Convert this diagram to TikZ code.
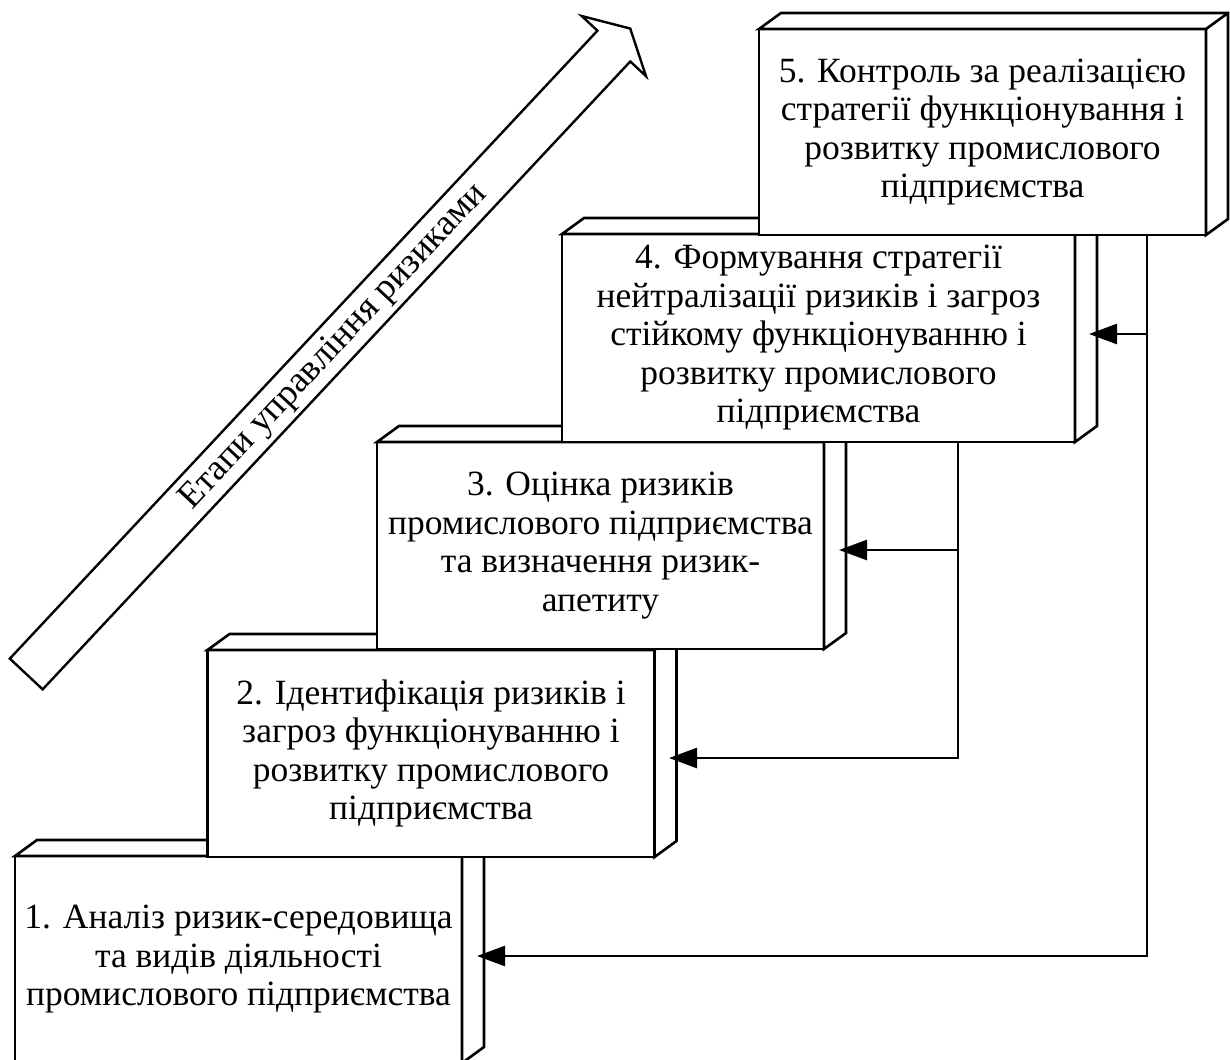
\documentclass[tikz,border=0pt]{standalone}
\usepackage{fontspec}
\setmainfont{Liberation Serif}
\usetikzlibrary{arrows.meta,calc}

% side and top faces of a stage block (depth 22 right, 16 up)
\newcommand\stagefaces[1]{%
  \draw[face] (#1.north west) -- ++(22,-16) -- ($(#1.north east)+(22,-16)$)
    -- ($(#1.south east)+(22,-16)$) -- (#1.south east) -- (#1.north east) -- cycle;
  \draw[face] (#1.north east) -- ++(22,-16);
}

\begin{document}
\begin{tikzpicture}[x=1pt,y=-1pt,
  stage/.style={draw, fill=white, line width=2.6pt, outer sep=0pt, inner sep=0pt,
    minimum width=447pt, minimum height=207pt, align=center,
    font=\fontsize{35.5}{38.5}\selectfont},
  face/.style={draw, fill=white, line width=2.6pt, line join=miter},
  link/.style={line width=2.6pt, line join=miter, -{Triangle[length=28pt,width=20pt]}},
  flow/.style={draw, fill=white, line width=2.4pt, line join=miter},
]
\fill[white] (0,0) rectangle (1230,1059);
\clip (0,0) rectangle (1230,1059);

% stage blocks, lowest first so each higher one sits in front
\node[stage] (b1) at (238.5,959.5) {1. Аналіз ризик-середовища\\та видів діяльності\\промислового підприємства};
\stagefaces{b1}
\node[stage] (b2) at (431,753.5) {2. Ідентифікація ризиків і\\загроз функціонуванню і\\розвитку промислового\\підприємства};
\stagefaces{b2}
\node[stage] (b3) at (600.5,545.5) {3. Оцінка ризиків\\промислового підприємства\\та визначення ризик-\\апетиту};
\stagefaces{b3}
\node[stage, minimum width=513pt, minimum height=208pt] (b4) at (818.5,338) {4. Формування стратегії\\нейтралізації ризиків і загроз\\стійкому функціонуванню і\\розвитку промислового\\підприємства};
\stagefaces{b4}
\node[stage, minimum height=206pt] (b5) at (982.5,132) {5. Контроль за реалізацією\\стратегії функціонування і\\розвитку промислового\\підприємства};
\stagefaces{b5}

% feedback lines
\coordinate (xA) at (1147,0);
\coordinate (xB) at (958,0);
\coordinate (t1) at (477,956);
\coordinate (t2) at (669,758);
\coordinate (t3) at (839,550);
\coordinate (t4) at (1089,334);
\draw[link] (b5.south -| xA) |- (t1);
\draw[link] (xA |- t4) -- (t4);
\draw[link] (b4.south -| xB) |- (t2);
\draw[link] (xB |- t3) -- (t3);

% hollow arrow with its caption
\begin{scope}[shift={(26.25,674)}, rotate=46.9]
  \draw[flow] (0,-22.5) -- (860,-22.5) -- (860,-44) -- (884,0) -- (860,44) -- (860,22.5) -- (0,22.5) -- cycle;
  \node[rotate=46.9, inner sep=0pt, font=\fontsize{36.5}{38.5}\selectfont] (cap) at (449,1.5) {Етапи управління ризиками};
\end{scope}
\end{tikzpicture}
\end{document}
